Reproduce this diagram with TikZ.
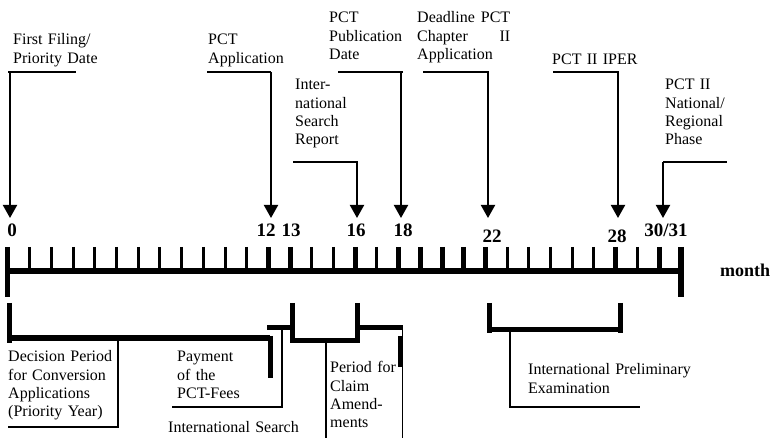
\documentclass[tikz,border=0pt]{standalone}
\usepackage{fontspec}
\setmainfont{Liberation Serif}
\usetikzlibrary{arrows.meta}
\begin{document}
\begin{tikzpicture}[x=1pt,y=-1pt,
  lbl/.style={anchor=base west, inner sep=0pt, text width=170pt, align=left,
              font=\fontsize{16}{18.3}\selectfont},
  num/.style={anchor=base, inner sep=0pt, font=\fontsize{19}{20}\selectfont\bfseries},
  pointer/.style={line width=2pt, -{Triangle[width=14pt,length=13pt]}},
  lead/.style={line width=1.2pt},
  axisbar/.style={line width=6pt},
  bracket/.style={line width=5pt},
  thintick/.style={line width=3pt},
  thicktick/.style={line width=5pt}]
\useasboundingbox (0,0) rectangle (777,438);

% ---- time axis ----
\coordinate (axl) at (7.5,271);
\coordinate (axr) at (681,271);
\draw[axisbar] (axl) -- (axr);
\draw[bracket] (7.5,247) -- (7.5,297);
\draw[axisbar] (681,247) -- (681,297);
\foreach \m in {1,...,11,14,15,17,23,24,25,26,27,29}
  \draw[thintick] ({8+21.7*\m},247) -- ({8+21.7*\m},270);
\foreach \m in {12,13,16,18,19,20,21,22,28,30}
  \draw[thicktick] ({8+21.7*\m},247) -- ({8+21.7*\m},270);

% ---- month numbers ----
\node[num] (n0)  at (12,237)  {0};
\node[num] (n12) at (266,237) {12};
\node[num] (n13) at (291,237) {13};
\node[num] (n16) at (356,237) {16};
\node[num] (n18) at (403,237) {18};
\node[num] (n22) at (492,243) {22};
\node[num] (n28) at (617,243) {28};
\node[num] (n30) at (666,237) {30/31};
\node[anchor=base west, inner sep=0pt, font=\fontsize{18}{20}\selectfont\bfseries] (month) at (720,277) {month};

% ---- upper labels ----
\node[lbl] (ff)   at (13,45)  {First Filing/\\Priority Date};
\node[lbl] (pa)   at (208,45) {PCT\\Application};
\node[lbl] (pub)  at (329,23) {PCT\\Publication\\Date};
\node[lbl] (isr)  at (295,90) {Inter-\\national\\Search\\Report};
\node[lbl, text width=93pt] (dl) at (417,23) {Deadline\hfill PCT\\Chapter\hfill II\\Application};
\node[lbl] (iper) at (552,65) {PCT II IPER};
\node[lbl] (nat)  at (665,90) {PCT II\\National/\\Regional\\Phase};

% ---- pointers to the axis ----
\coordinate (kff)  at (10,72);   \coordinate (tff)  at (10,218);
\coordinate (kpa)  at (271,72);  \coordinate (tpa)  at (271,218);
\coordinate (kpub) at (401,72);  \coordinate (tpub) at (401,218);
\coordinate (kisr) at (357,162); \coordinate (tisr) at (357,218);
\coordinate (kdl)  at (488,72);  \coordinate (tdl)  at (488,218);
\coordinate (kip)  at (618,72);  \coordinate (tip)  at (618,218);
\coordinate (knat) at (663,162); \coordinate (tnat) at (663,218);

\draw[lead] (8,72) -- (76,72);
\draw[pointer] (kff) -- (tff);
\draw[lead] (207,72) -- (kpa);
\draw[pointer] (kpa) -- (tpa);
\draw[lead] (338,72) -- (403,72);
\draw[pointer] (kpub) -- (tpub);
\draw[lead] (293,162) -- (358,162);
\draw[pointer] (kisr) -- (tisr);
\draw[lead] (423,72) -- (489,72);
\draw[pointer] (kdl) -- (tdl);
\draw[lead] (553,72) -- (619,72);
\draw[pointer] (kip) -- (tip);
\draw[lead] (knat) -- (727,162);
\draw[pointer] (knat) -- (tnat);

% ---- lower brackets ----
% decision period 0-12
\draw[bracket] (9.5,303) -- (9.5,343);
\draw[axisbar] (9.5,338.5) -- (270,338.5);
\draw[bracket] (270,336) -- (270,378);
% payment 12-13
\draw[bracket] (267,328) -- (292,328);
% international search 13-16
\draw[bracket] (292,303) -- (292,343);
\draw[bracket] (292,340.5) -- (357,340.5);
\draw[bracket] (357,303) -- (357,343);
% claim amendments 16-18
\draw[bracket] (357,328) -- (403,328);
\draw[bracket] (400.5,336) -- (400.5,367);
% international preliminary examination 22-28
\draw[bracket] (489,303) -- (489,333);
\draw[bracket] (489,329.5) -- (620,329.5);
\draw[bracket] (620,303) -- (620,333);

% ---- lower labels ----
\node[lbl] (dec) at (8,362)   {Decision Period\\for Conversion\\Applications\\(Priority Year)};
\node[lbl] (pay) at (177,362) {Payment\\of the\\PCT-Fees};
\node[lbl] (is)  at (168,432) {International Search};
\node[lbl] (pca) at (330,373) {Period for\\Claim\\Amend-\\ments};
\node[lbl] (ipe) at (528,375) {International Preliminary\\Examination};

% ---- thin leader lines ----
\draw[lead] (118,341) -- (118,427) -- (8,427);
\draw[lead] (282,330) -- (282,407) -- (172,407);
\draw[lead] (326,343) -- (326,438);
\draw[lead] (402.5,330) -- (402.5,438);
\draw[lead] (510,332) -- (510,407) -- (640,407);
\end{tikzpicture}
\end{document}
